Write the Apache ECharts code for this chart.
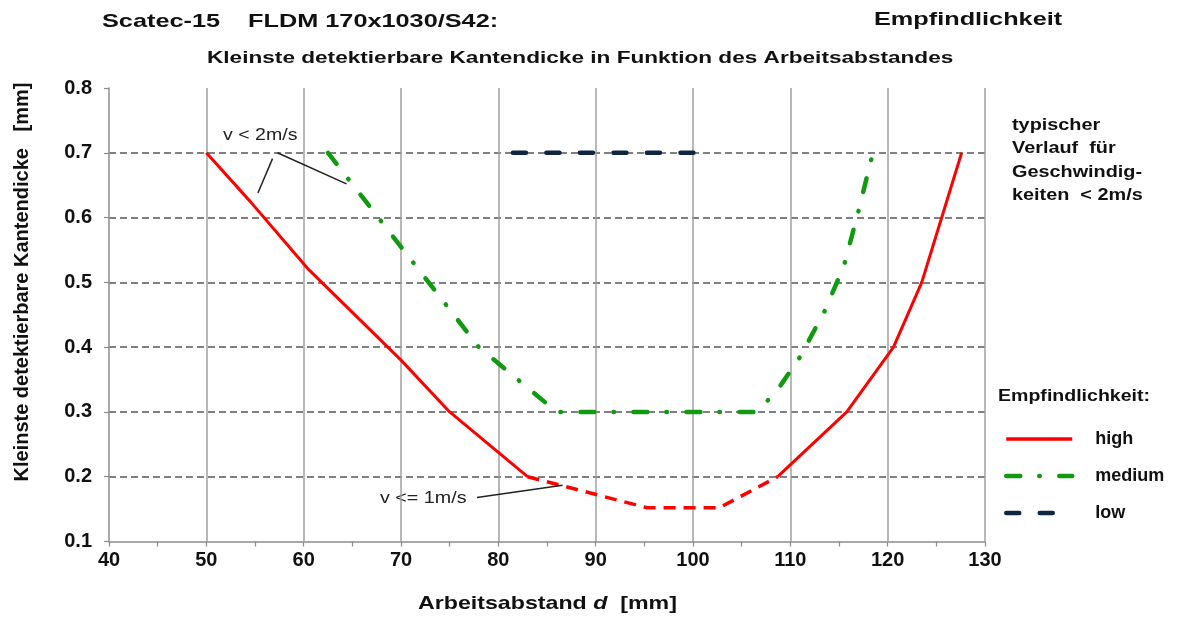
<!DOCTYPE html>
<html>
<head>
<meta charset="utf-8">
<script src="https://cdn.jsdelivr.net/npm/echarts@6/dist/echarts.min.js"></script>
<style>
  html, body { margin: 0; padding: 0; background: #fff; }
  #chart { width: 1177px; height: 619px; }
</style>
</head>
<body>
<div id="chart"></div>
<script>
// x-Achse: Arbeitsabstand [mm], y-Achse: Kantendicke [mm]
var xTicks = [40, 50, 60, 70, 80, 90, 100, 110, 120, 130];
var yTicks = [0.1, 0.2, 0.3, 0.4, 0.5, 0.6, 0.7, 0.8];

// high - durchgezogen links, gestrichelt (v <= 1m/s), durchgezogen rechts
var highLeftX = [50, 54.5, 60.5, 70, 75, 83];
var highLeftY = [0.7, 0.625, 0.52, 0.38, 0.3, 0.2];
var highMidX = [83, 95.3, 102.7, 108.7];
var highMidY = [0.2, 0.152, 0.152, 0.2];
var highRightX = [108.7, 115.8, 120.6, 123.5, 127.6];
var highRightY = [0.2, 0.3, 0.4, 0.5, 0.7];

// medium
var mediumX = [62.5, 78, 86, 106.5, 108.5, 111, 113.5, 115.5, 117, 118.4];
var mediumY = [0.7, 0.4, 0.3, 0.3, 0.33, 0.385, 0.455, 0.525, 0.61, 0.695];

// low
var lowX = [81.5, 100.5];
var lowY = [0.7, 0.7];

// Hinweislinien (Datenkoordinaten)
var noteLines = [
  [[57.3, 0.700], [64.4, 0.652]],
  [[56.8, 0.691], [55.3, 0.638]],
  [[77.8, 0.168], [86.6, 0.187]]
];

function zip(xs, ys) {
  var out = [];
  for (var i = 0; i < xs.length; i++) out.push([xs[i], ys[i]]);
  return out;
}

var font = "'Liberation Sans', Arial, sans-serif";

// Text im Bild ist horizontal gestreckt -> scaleX
function label(txt, x, y, size, sx, bold, extra) {
  var st = { text: txt, font: (bold ? 'bold ' : '') + size + 'px ' + font, fill: '#111', verticalAlign: 'middle' };
  if (extra) for (var k in extra) st[k] = extra[k];
  return { type: 'text', x: x, y: y, scaleX: sx, style: st };
}

var myChart = echarts.init(document.getElementById('chart'));

var option = {
  animation: false,
  backgroundColor: '#fff',
  grid: { left: 109, right: 192, top: 88, bottom: 77.5 },
  legend: {
    data: [
      { name: 'high', lineStyle: { width: 3.5 } },
      { name: 'medium', lineStyle: { width: 4.5 } },
      { name: 'low', lineStyle: { width: 4.5 } }
    ],
    orient: 'vertical',
    left: 999,
    top: 425,
    itemWidth: 66,
    itemHeight: 14,
    itemGap: 19,
    selectedMode: false,
    itemStyle: { color: 'transparent', borderColor: 'transparent', borderWidth: 0, opacity: 0 },
    textStyle: { fontFamily: font, fontWeight: 'bold', fontSize: 18, color: '#111', padding: [0, 0, 0, 18] }
  },
  xAxis: {
    type: 'value',
    min: 40, max: 130, interval: 10,
    axisLine: { lineStyle: { color: '#8c8c8c', width: 1.5 } },
    axisTick: { show: true, length: 5, lineStyle: { color: '#8c8c8c', width: 1.2 } },
    minorTick: { show: true, splitNumber: 2, length: 5, lineStyle: { color: '#8c8c8c', width: 1.2 } },
    axisLabel: { fontFamily: font, fontWeight: 'bold', fontSize: 20, color: '#111', margin: 9 },
    splitLine: { show: true, showMinLine: false, showMaxLine: true, lineStyle: { color: '#a0a0a0', width: 1.5 } }
  },
  yAxis: {
    type: 'value',
    min: 0.1, max: 0.8, interval: 0.1,
    axisLine: { show: true, lineStyle: { color: '#8c8c8c', width: 1.5 } },
    axisTick: { show: true, length: 5, lineStyle: { color: '#8c8c8c', width: 1.2 } },
    axisLabel: {
      fontFamily: font, fontWeight: 'bold', fontSize: 20, color: '#111', margin: 17,
      formatter: function (v) { return v.toFixed(1); }
    },
    splitLine: { show: true, showMinLine: false, showMaxLine: false, lineStyle: { color: '#808080', width: 2.2, type: [7, 4] } }
  },
  graphic: [
    label('Scatec-15    FLDM 170x1030/S42:', 102, 22, 19, 1.33, true),
    label('Empfindlichkeit', 874, 20, 19, 1.33, true),
    label('Kleinste detektierbare Kantendicke in Funktion des Arbeitsabstandes', 207, 58, 17, 1.33, true),
    label('typischer\nVerlauf  für\nGeschwindig-\nkeiten  < 2m/s', 1012, 113.5, 16, 1.24, true, { lineHeight: 23.5, verticalAlign: 'top' }),
    label('Empfindlichkeit:', 998, 396, 17, 1.15, true),
    label('v < 2m/s', 223, 135, 17, 1.15, false, { fill: '#222' }),
    label('v <= 1m/s', 380, 498, 17, 1.16, false, { fill: '#222' }),
    {
      type: 'text', x: 22, y: 282, rotation: Math.PI / 2,
      style: { text: 'Kleinste detektierbare Kantendicke   [mm]', font: 'bold 20px ' + font, fill: '#111', align: 'center', verticalAlign: 'middle' }
    },
    {
      type: 'text', x: 418, y: 604, scaleX: 1.22,
      style: {
        text: '{a|Arbeitsabstand }{i|d}{a|  [mm]}',
        verticalAlign: 'middle',
        rich: {
          a: { fontFamily: font, fontWeight: 'bold', fontSize: 19, fill: '#111' },
          i: { fontFamily: font, fontWeight: 'bold', fontStyle: 'italic', fontSize: 19, fill: '#111' }
        }
      }
    }
  ],
  series: [
    {
      name: 'high', type: 'line', symbol: 'none', z: 4,
      data: zip(highLeftX, highLeftY),
      lineStyle: { color: '#ff0000', width: 3 },
      itemStyle: { color: '#ff0000' },
      markLine: {
        silent: true, symbol: ['none', 'none'], animation: false,
        label: { show: false },
        lineStyle: { color: '#222', width: 1.5, type: 'solid' },
        data: noteLines.map(function (l) { return [{ coord: l[0] }, { coord: l[1] }]; })
      }
    },
    {
      name: 'high', type: 'line', symbol: 'none', z: 4,
      data: zip(highMidX, highMidY),
      lineStyle: { color: '#ff0000', width: 3.5, type: [12, 8] }
    },
    {
      name: 'high', type: 'line', symbol: 'none', z: 4,
      data: zip(highRightX, highRightY),
      lineStyle: { color: '#ff0000', width: 3 }
    },
    {
      name: 'medium', type: 'line', symbol: 'none', z: 3,
      data: zip(mediumX, mediumY),
      lineStyle: { color: '#109a10', width: 4.5, type: [14, 19, 0.5, 19.5], cap: 'round' },
      itemStyle: { color: '#109a10' }
    },
    {
      name: 'low', type: 'line', symbol: 'none', z: 3,
      data: zip(lowX, lowY),
      lineStyle: { color: '#0f2540', width: 4.5, type: [13, 20.5], cap: 'round' },
      itemStyle: { color: '#0f2540' }
    }
  ]
};

myChart.setOption(option);
</script>
</body>
</html>
